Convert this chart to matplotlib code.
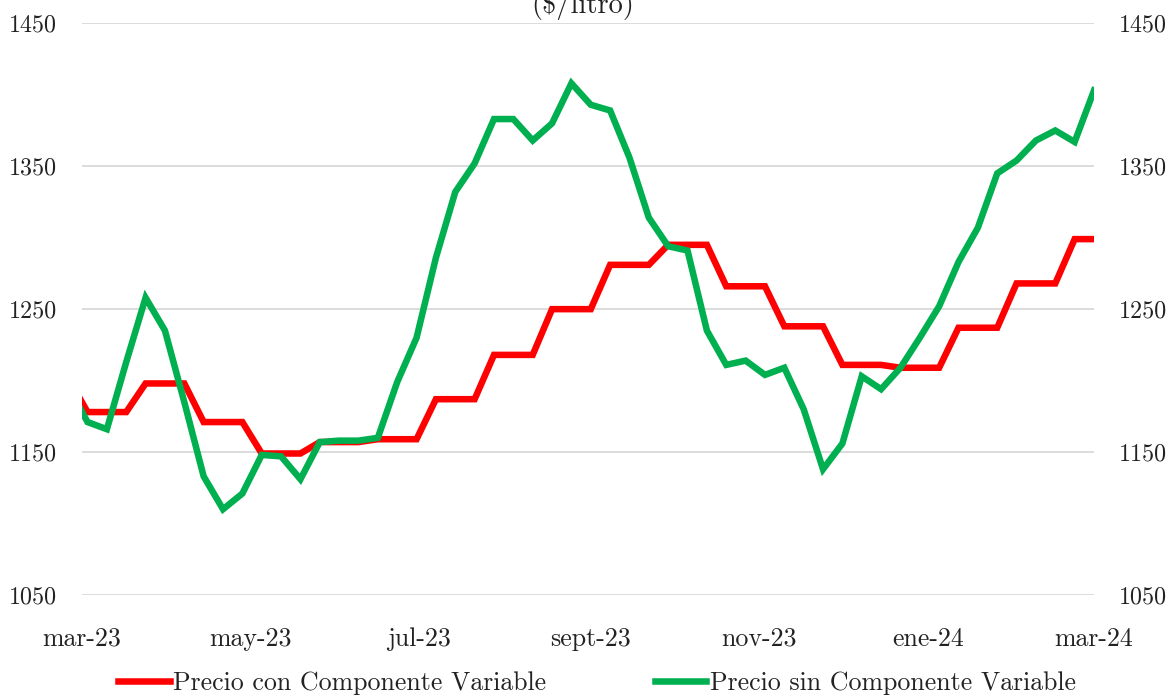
import matplotlib
matplotlib.use("Agg")
import matplotlib.pyplot as plt
import pandas as pd

plt.rcParams['font.family'] = ['cmr10', 'DejaVu Serif']
plt.rcParams['axes.formatter.use_mathtext'] = True
plt.rcParams['mathtext.fontset'] = 'cm'

# ---- data ----
dates = pd.date_range('2023-02-24', periods=54, freq='7D')

precio_con = [1202, 1178, 1178, 1178, 1198, 1198, 1198, 1171, 1171, 1171,
              1149, 1149, 1149, 1157, 1157, 1157, 1159, 1159, 1159, 1187,
              1187, 1187, 1218, 1218, 1218, 1250, 1250, 1250, 1281, 1281,
              1281, 1295, 1295, 1295, 1266, 1266, 1266, 1238, 1238, 1238,
              1211, 1211, 1211, 1209, 1209, 1209, 1237, 1237, 1237, 1268,
              1268, 1268, 1299, 1299]

precio_sin = [1196, 1171, 1166, 1213, 1258, 1235, 1185, 1133, 1110, 1121,
              1148, 1147, 1131, 1157, 1158, 1158, 1160, 1199, 1230, 1286,
              1332, 1352, 1383, 1383, 1368, 1380, 1408, 1393, 1389, 1356,
              1314, 1294, 1291, 1235, 1211, 1214, 1204, 1209, 1180, 1138,
              1156, 1203, 1194, 1209, 1230, 1252, 1283, 1307, 1345, 1354,
              1368, 1375, 1367, 1403]

tick_dates = ['2023-03-01', '2023-05-01', '2023-07-01', '2023-09-01',
              '2023-11-01', '2024-01-01', '2024-03-01']
tick_labels = ['mar-23', 'may-23', 'jul-23', 'sept-23', 'nov-23', 'ene-24', 'mar-24']
y_ticks = [1050, 1150, 1250, 1350, 1450]

label_con = 'Precio con Componente Variable'
label_sin = 'Precio sin Componente Variable'
title = '(\\$/litro)'

# ---- figure ----
W, H = 1176, 697
fig = plt.figure(figsize=(W / 100, H / 100), dpi=100)
left, right = 82 / W, 1094 / W
top, bottom = 1 - 23.3 / H, 1 - 595 / H
ax = fig.add_axes([left, bottom, right - left, top - bottom])

FS_Y = 17.3
FS_X = 18.6
FS_LEG = 18.6
TXT = '#222222'

ax.plot(dates, precio_con, color='#FF0000', lw=4.7, label=label_con,
        solid_joinstyle='miter', zorder=3)
ax.plot(dates, precio_sin, color='#00B050', lw=4.7, label=label_sin,
        solid_joinstyle='miter', zorder=4)

ax.set_xlim(pd.Timestamp('2023-03-01'), pd.Timestamp('2024-03-01'))
ax.set_ylim(1050, 1450)
ax.set_yticks(y_ticks)
ax.set_yticklabels([str(v) for v in y_ticks])
ax.set_xticks([pd.Timestamp(d) for d in tick_dates])
ax.set_xticklabels(tick_labels)

ax.grid(axis='y', color='#D9D9D9', lw=1.3)
ax.set_axisbelow(True)
for s in ax.spines.values():
    s.set_visible(False)
ax.tick_params(axis='y', length=0, pad=18, labelsize=FS_Y, colors=TXT)
ax.tick_params(axis='x', length=0, pad=23, labelsize=FS_X, colors=TXT)

ax2 = ax.twinx()
ax2.set_ylim(1050, 1450)
ax2.set_yticks(y_ticks)
ax2.set_yticklabels([str(v) for v in y_ticks])
for s in ax2.spines.values():
    s.set_visible(False)
ax2.tick_params(axis='y', length=0, pad=18, labelsize=FS_Y, colors=TXT)

fig.text(583 / W, 1 - 13 / H, title, ha='center', va='baseline',
         fontsize=20.5, color=TXT)

h1, l1 = ax.get_legend_handles_labels()
leg = fig.legend(h1, l1, loc='center', bbox_to_anchor=(597 / W, 1 - 683 / H),
                 ncol=2, frameon=False, fontsize=FS_LEG, handlelength=2.0,
                 handletextpad=0.12, columnspacing=4.2, borderaxespad=0,
                 borderpad=0)
for t in leg.get_texts():
    t.set_color(TXT)

fig.savefig('out.png', dpi=100)
